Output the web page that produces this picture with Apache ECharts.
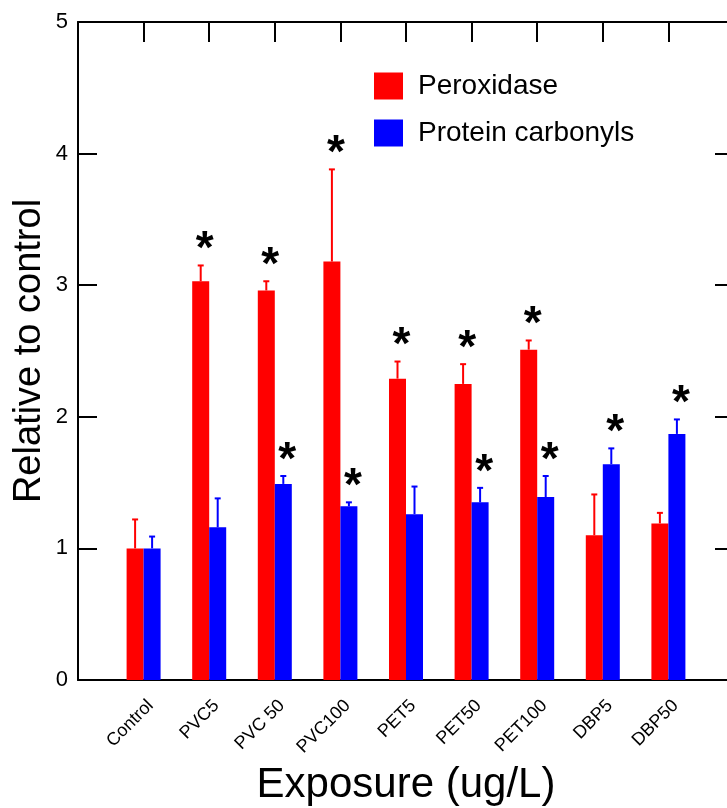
<!DOCTYPE html>
<html>
<head>
<meta charset="utf-8">
<script src="https://cdn.jsdelivr.net/npm/echarts@6/dist/echarts.min.js"></script>
<style>html,body{margin:0;padding:0;background:#fff;}#chart{width:727px;height:808px;}</style>
</head>
<body>
<div id="chart"></div>
<script>
const categories = ['Control', 'PVC5', 'PVC 50', 'PVC100', 'PET5', 'PET50', 'PET100', 'DBP5', 'DBP50'];
const peroxidase = [1.00, 3.03, 2.96, 3.18, 2.29, 2.25, 2.51, 1.10, 1.19];
const peroxidaseErr = [0.22, 0.12, 0.07, 0.70, 0.13, 0.15, 0.07, 0.31, 0.08];
const peroxidaseSig = [0, 1, 1, 1, 1, 1, 1, 0, 0];
const carbonyls = [1.00, 1.16, 1.49, 1.32, 1.26, 1.35, 1.39, 1.64, 1.87];
const carbonylsErr = [0.09, 0.22, 0.06, 0.03, 0.21, 0.11, 0.16, 0.12, 0.11];
const carbonylsSig = [0, 0, 1, 1, 0, 1, 1, 1, 1];
const yTicks = [0, 1, 2, 3, 4, 5];

const FONT = 'Liberation Sans, Arial, sans-serif';
const RED = '#ff0000', BLUE = '#0000ff';
const BAR_W = 17;

const chart = echarts.init(document.getElementById('chart'), null, {renderer: 'canvas'});

function errSeries(name, vals, errs, color, dx) {
  return {
    type: 'custom', name: name, xAxisIndex: 0, yAxisIndex: 0, z: 3, silent: true,
    data: categories.map((c, i) => [i + 1, vals[i], vals[i] + errs[i]]),
    renderItem: function (params, api) {
      const b = api.coord([api.value(0), api.value(1)]);
      const t = api.coord([api.value(0), api.value(2)]);
      const x = b[0] + dx;
      return {type: 'group', children: [
        {type: 'line', shape: {x1: x, y1: b[1], x2: x, y2: t[1]}, style: {stroke: color, lineWidth: 2}},
        {type: 'line', shape: {x1: x - 3, y1: t[1], x2: x + 3, y2: t[1]}, style: {stroke: color, lineWidth: 2}}
      ]};
    }
  };
}

function starSeries(name, vals, errs, sig, dx) {
  const data = [];
  categories.forEach((c, i) => { if (sig[i]) data.push([i + 1, vals[i] + errs[i]]); });
  return {
    type: 'custom', name: name, xAxisIndex: 0, yAxisIndex: 0, z: 4, silent: true,
    data: data,
    renderItem: function (params, api) {
      const p = api.coord([api.value(0), api.value(1)]);
      return {type: 'text', x: p[0] + dx + 4, y: p[1] - 15,
        style: {text: '*', font: 'bold 46px ' + FONT, fill: '#000', align: 'center', verticalAlign: 'middle'}};
    }
  };
}

const option = {
  backgroundColor: '#fff',
  animation: false,
  grid: {left: 78, top: 22, right: -7, bottom: 128, containLabel: false, outerBoundsMode: 'none'},
  legend: {
    orient: 'vertical', left: 369, top: 67, itemWidth: 29, itemHeight: 27, itemGap: 19,
    icon: 'rect',
    data: ['Peroxidase', 'Protein carbonyls'],
    textStyle: {fontFamily: FONT, fontSize: 28, color: '#000', padding: [0, 0, 0, 10]}
  },
  xAxis: [
    {
      type: 'value', position: 'bottom', min: 0, max: 10, interval: 1,
      axisLine: {show: true, onZero: false, lineStyle: {color: '#000', width: 2}},
      axisTick: {show: false}, splitLine: {show: false},
      axisLabel: {
        rotate: 45, margin: 30, fontFamily: FONT, fontSize: 18, color: '#000',
        padding: [0, -10, 0, 0],
        formatter: v => (v >= 1 && v <= 9 && Number.isInteger(v)) ? categories[v - 1] : ''
      },
      name: 'Exposure (ug/L)', nameLocation: 'middle', nameGap: 84, nameMoveOverlap: false,
      nameTextStyle: {fontFamily: FONT, fontSize: 42, color: '#000'}
    },
    {
      type: 'value', position: 'top', min: 0, max: 10, interval: 1,
      axisLine: {show: true, onZero: false, lineStyle: {color: '#000', width: 2}},
      axisTick: {show: true, inside: true, length: 20, lineStyle: {color: '#000', width: 2}},
      axisLabel: {show: false}, splitLine: {show: false}
    }
  ],
  yAxis: [
    {
      type: 'value', min: yTicks[0], max: yTicks[yTicks.length - 1], interval: 1,
      axisLine: {show: true, onZero: false, lineStyle: {color: '#000', width: 2}},
      axisTick: {show: true, inside: true, length: 19, lineStyle: {color: '#000', width: 2}},
      axisLabel: {fontFamily: FONT, fontSize: 22, color: '#000', margin: 10},
      splitLine: {show: false},
      name: 'Relative to control', nameLocation: 'middle', nameGap: 29, nameMoveOverlap: false,
      nameTextStyle: {fontFamily: FONT, fontSize: 38, color: '#000'}
    },
    {
      type: 'value', position: 'right', min: yTicks[0], max: yTicks[yTicks.length - 1], interval: 1,
      axisLine: {show: true, onZero: false, lineStyle: {color: '#000', width: 2}},
      axisTick: {show: true, inside: true, length: 19, lineStyle: {color: '#000', width: 2}},
      axisLabel: {show: false}, splitLine: {show: false}
    }
  ],
  series: [
    {
      type: 'bar', name: 'Peroxidase', xAxisIndex: 0, yAxisIndex: 0, barWidth: BAR_W, barGap: '0%',
      itemStyle: {color: RED}, z: 2,
      data: categories.map((c, i) => [i + 1, peroxidase[i]])
    },
    {
      type: 'bar', name: 'Protein carbonyls', xAxisIndex: 0, yAxisIndex: 0, barWidth: BAR_W, barGap: '0%',
      itemStyle: {color: BLUE}, z: 2,
      data: categories.map((c, i) => [i + 1, carbonyls[i]])
    },
    errSeries('perErr', peroxidase, peroxidaseErr, RED, -BAR_W / 2),
    errSeries('carbErr', carbonyls, carbonylsErr, BLUE, BAR_W / 2),
    starSeries('perSig', peroxidase, peroxidaseErr, peroxidaseSig, -BAR_W / 2),
    starSeries('carbSig', carbonyls, carbonylsErr, carbonylsSig, BAR_W / 2)
  ]
};
chart.setOption(option);
</script>
</body>
</html>
